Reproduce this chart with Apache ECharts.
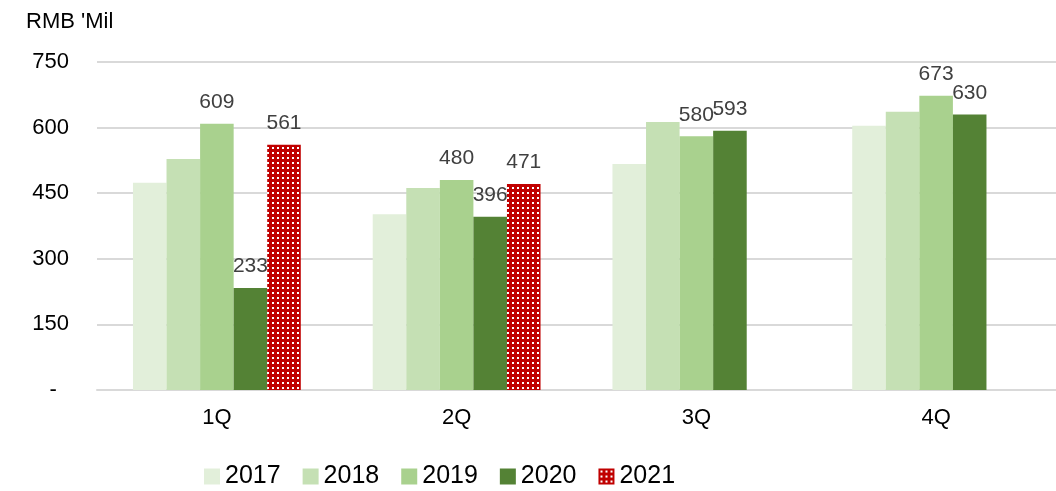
<!DOCTYPE html>
<html>
<head>
<meta charset="utf-8">
<script src="https://cdn.jsdelivr.net/npm/echarts@6/dist/echarts.min.js"></script>
<style>html,body{margin:0;padding:0;background:#fff;}#c{width:1056px;height:491px;}</style>
</head>
<body>
<div id="c"></div>
<script>
const categories = ['1Q', '2Q', '3Q', '4Q'];
const years = ['2017', '2018', '2019', '2020', '2021'];
const v2017 = [474, 402, 517, 604];
const v2018 = [528, 462, 613, 636];
const v2019 = [609, 480, 580, 673];
const v2020 = [233, 396, 593, 630];
const v2021 = [561, 471, null, null];
const yTicks = [0, 150, 300, 450, 600, 750];

const colors = ['#E2EFDA', '#C5E0B4', '#A9D18E', '#548235', '#C00000'];
const showLabel = [false, false, true, true, true];
const FONT = 'Liberation Sans, Arial, sans-serif';

function dotPattern() {
  const c = document.createElement('canvas');
  c.width = 5; c.height = 5;
  const ctx = c.getContext('2d');
  ctx.fillStyle = '#C00000';
  ctx.fillRect(0, 0, 5, 5);
  ctx.fillStyle = '#FFFFFF';
  ctx.fillRect(2, 2, 2, 2);
  return c;
}

const dataSets = [v2017, v2018, v2019, v2020, v2021];
const series = years.map((y, i) => ({
  name: y,
  type: 'bar',
  data: dataSets[i],
  barGap: '0%',
  barCategoryGap: '30%',
  itemStyle: {
    color: i === 4 ? { image: dotPattern(), repeat: 'repeat' } : colors[i]
  },
  label: {
    show: showLabel[i],
    position: 'top',
    distance: 11,
    color: '#404040',
    fontSize: 21,
    fontFamily: FONT
  }
}));

const chart = echarts.init(document.getElementById('c'), null, { renderer: 'canvas' });
chart.setOption({
  animation: false,
  backgroundColor: '#fff',
  title: {
    text: "RMB 'Mil",
    left: 21,
    top: 6,
    textStyle: { fontSize: 22, fontWeight: 'normal', color: '#000', fontFamily: FONT }
  },
  grid: { left: 97, right: 0, top: 62, bottom: 101, containLabel: false },
  legend: {
    data: years,
    left: 204,
    top: 464,
    padding: 0,
    itemWidth: 16,
    itemHeight: 16,
    itemGap: 22,
    icon: 'rect',
    textStyle: { fontSize: 25, color: '#000', fontFamily: FONT }
  },
  xAxis: {
    type: 'category',
    data: categories,
    axisLine: { show: true, lineStyle: { color: '#D9D9D9', width: 2 } },
    axisTick: { show: false },
    axisLabel: { fontSize: 22, color: '#000', margin: 17, fontFamily: FONT }
  },
  yAxis: {
    type: 'value',
    min: yTicks[0],
    max: yTicks[yTicks.length - 1],
    interval: yTicks[1] - yTicks[0],
    axisLine: { show: false },
    axisTick: { show: false },
    splitLine: { lineStyle: { color: '#D9D9D9', width: 2 } },
    axisLabel: {
      fontSize: 22,
      color: '#000',
      margin: 28,
      fontFamily: FONT,
      formatter: v => v === 0 ? '-  ' : String(v)
    }
  },
  series: series
});
</script>
</body>
</html>
